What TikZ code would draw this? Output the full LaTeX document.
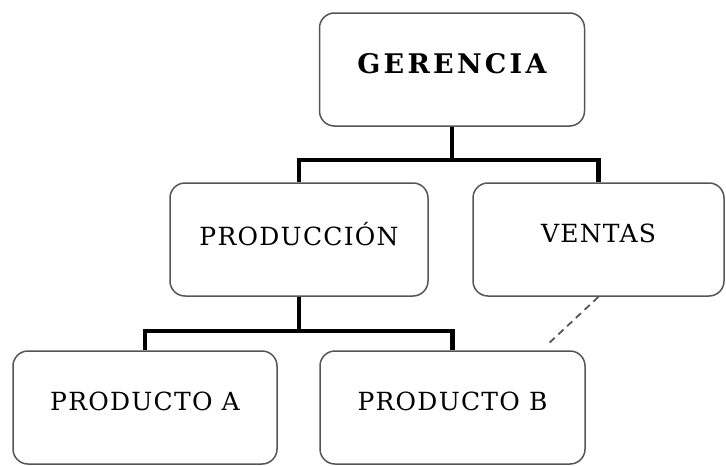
\documentclass[tikz,border=0pt]{standalone}
\usepackage{fontspec}
\setmainfont{DejaVu Serif}[LetterSpace=5]
\usepackage{tikz}
\usetikzlibrary{positioning}
\definecolor{boxline}{RGB}{85,85,85}

\begin{document}
\begin{tikzpicture}[x=1pt,y=1pt,node distance=170pt]
\tikzstyle{cargo} = [rectangle, rounded corners=15pt, draw=boxline, line width=1.5pt, minimum width=262pt, minimum height=113pt, text depth=12pt, font=\fontsize{25}{30}\selectfont]
\tikzstyle{branch} = [line width=4.5pt, black]
\tikzstyle{link} = [line width=1.8pt, boxline, dash pattern=on 7pt off 5pt]

\useasboundingbox (0,0) rectangle (726,-466);

\node (ger) [cargo, minimum width=265pt, font={\fontsize{27}{32}\selectfont\bfseries\addfontfeature{LetterSpace=12}}] at (452,-69.5) {GERENCIA};
\node (prod) [cargo, minimum width=258pt, below of=ger, xshift=-153pt] {PRODUCCIÓN};
\node (ventas) [cargo, minimum width=251pt, below of=ger, xshift=146.5pt] {VENTAS};
\node (proda) [cargo, minimum width=264pt, below of=prod, yshift=2pt, xshift=-154pt] {PRODUCTO A};
\node (prodb) [cargo, minimum width=265pt, below of=prod, yshift=2pt, xshift=153.5pt] {PRODUCTO B};
\coordinate (dashend) at (547,-345);

\draw [branch] (ger.south) -- ++(0,-33) -| (prod.north);
\draw [branch] (ger.south) -- ++(0,-33) -| (ventas.north);
\draw [branch] (prod.south) -- ++(0,-34) -| (proda.north);
\draw [branch] (prod.south) -- ++(0,-34) -| (prodb.north);
\draw [link] (ventas.south) -- (dashend);

\end{tikzpicture}
\end{document}
